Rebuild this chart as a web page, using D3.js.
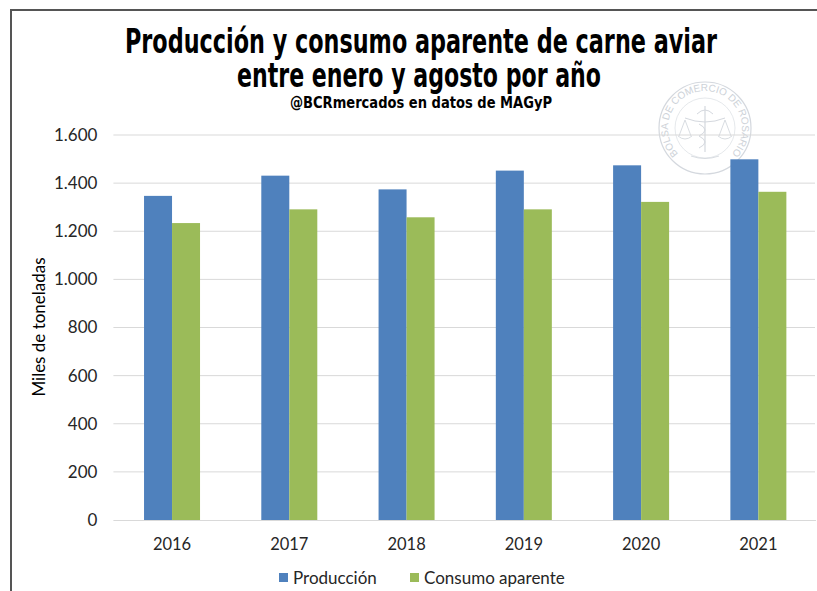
<!DOCTYPE html>
<html><head><meta charset="utf-8">
<script src="https://cdn.jsdelivr.net/npm/d3@7"></script>
<style>body{margin:0;background:#fff}svg{display:block}</style>
</head><body>
<svg id="c" width="817" height="591"></svg>
<script>
const years = ["2016","2017","2018","2019","2020","2021"];
const produccion = [1347, 1431, 1374, 1452, 1474, 1499];
const consumo = [1234, 1291, 1258, 1291, 1322, 1364];
const seriesNames = ["Producción", "Consumo aparente"];
const yTicks = [0,200,400,600,800,1000,1200,1400,1600];
const colors = ["#4F81BD", "#9BBB59"];

const svg = d3.select("#c");
const W = 817, H = 591;
const m = {left:113.4, right:817, top:135, bottom:520};

// frame
svg.append("line").attr("x1",10).attr("x2",W).attr("y1",10).attr("y2",10).attr("stroke","#555").attr("stroke-width",2);
svg.append("line").attr("x1",11).attr("x2",11).attr("y1",10).attr("y2",H).attr("stroke","#555").attr("stroke-width",2);

const x = d3.scaleBand().domain(years).range([m.left, m.right]).paddingInner(0).paddingOuter(0);
const y = d3.scaleLinear().domain([0,1600]).range([m.bottom, m.top]);
const xs = d3.scaleBand().domain(seriesNames).range([0, 56]);
const grpOff = (x.bandwidth()-56)/2;

// watermark seal
const cx = 705, cy = 128, rT = 37;
const wm = svg.append("g").attr("transform",`translate(${cx},${cy})`).attr("fill","none").attr("stroke","#d4d8de");
wm.append("circle").attr("r",46).attr("stroke-width",1.2);
wm.append("circle").attr("r",30).attr("stroke-width",0.6);
const a0 = -135*Math.PI/180, a1 = 135*Math.PI/180;
svg.append("defs").append("path").attr("id","arc")
  .attr("d",`M ${cx+rT*Math.sin(a0)},${cy-rT*Math.cos(a0)} A ${rT} ${rT} 0 1 1 ${cx+rT*Math.sin(a1)},${cy-rT*Math.cos(a1)}`);
svg.append("text").attr("font-family","'Liberation Sans', Arial, sans-serif").attr("font-size",10)
  .attr("fill","#cdd2d8").append("textPath").attr("href","#arc").attr("startOffset","50%").attr("text-anchor","middle")
  .text("BOLSA DE COMERCIO DE ROSARIO");
// simple caduceus & scales
wm.append("line").attr("x1",0).attr("x2",0).attr("y1",-22).attr("y2",24).attr("stroke-width",1.2);
wm.append("path").attr("d","M-8,-14 Q0,-22 8,-14 M-20,-10 Q0,-2 20,-10 M-6,-4 Q6,2 -6,8 Q6,14 -6,20").attr("stroke-width",1);
wm.append("path").attr("d","M-20,-8 L-26,8 M-20,-8 L-14,8 M-27,8 Q-20,14 -13,8 M20,-8 L26,8 M20,-8 L14,8 M13,8 Q20,14 27,8").attr("stroke-width",0.9);
wm.append("path").attr("d","M-14,28 Q0,33 14,28").attr("stroke-width",0.9);

// gridlines
svg.append("g").selectAll("line").data(yTicks.filter(d=>d>0)).join("line")
  .attr("x1",m.left).attr("x2",815).attr("y1",d=>y(d)).attr("y2",d=>y(d))
  .attr("stroke","#d9d9d9").attr("stroke-width",1);

// bars
const data = years.map((yr,i)=>({yr, vals:[produccion[i], consumo[i]]}));
const g = svg.append("g");
data.forEach(d=>{
  d.vals.forEach((v,j)=>{
    g.append("rect")
      .attr("x", x(d.yr)+grpOff+xs(seriesNames[j]))
      .attr("width", xs.bandwidth())
      .attr("y", y(v)).attr("height", y(0)-y(v))
      .attr("fill", colors[j]);
  });
});

// x axis line
svg.append("line").attr("x1",m.left).attr("x2",816).attr("y1",y(0)+0.5).attr("y2",y(0)+0.5).attr("stroke","#d9d9d9").attr("stroke-width",1);

const fnt = "Lato, 'Open Sans', sans-serif";
// y axis
const fmt = d => d3.format(",")(d).replace(/,/g,".");
const yAxis = d3.axisLeft(y).tickValues(yTicks).tickFormat(fmt).tickSize(0).tickPadding(16);
const ya = svg.append("g").attr("transform",`translate(${m.left},0)`).call(yAxis);
ya.select(".domain").remove();
ya.selectAll("text").attr("font-family",fnt).attr("font-size",17).attr("fill","#262626");

// x axis labels
const xAxis = d3.axisBottom(x).tickSize(0).tickPadding(18);
const xa = svg.append("g").attr("transform",`translate(0,${m.bottom})`).call(xAxis);
xa.select(".domain").remove();
xa.selectAll("text").attr("font-family",fnt).attr("font-size",16.5).attr("fill","#262626");

// y axis title
svg.append("text").attr("transform","translate(45,327) rotate(-90)").attr("text-anchor","middle")
  .attr("font-family",fnt).attr("font-size",17).attr("fill","#000").text("Miles de toneladas");

// titles
const tf = "'Liberation Sans Narrow', 'Arial Narrow', 'DejaVu Sans Condensed', sans-serif";
svg.append("text").attr("x",421).attr("y",53).attr("text-anchor","middle").attr("font-family",tf)
  .attr("font-weight","bold").attr("font-size",34).attr("textLength",592).attr("lengthAdjust","spacingAndGlyphs")
  .text("Producción y consumo aparente de carne aviar");
svg.append("text").attr("x",419).attr("y",87).attr("text-anchor","middle").attr("font-family",tf)
  .attr("font-weight","bold").attr("font-size",34).attr("textLength",364).attr("lengthAdjust","spacingAndGlyphs")
  .text("entre enero y agosto por año");
svg.append("text").attr("x",421).attr("y",108).attr("text-anchor","middle").attr("font-family",tf)
  .attr("font-weight","bold").attr("font-size",15).attr("textLength",262).attr("lengthAdjust","spacingAndGlyphs")
  .text("@BCRmercados en datos de MAGyP");

// legend
const leg = svg.append("g");
const legX = [279, 410];
const legTX = [293, 424];
seriesNames.forEach((s,i)=>{
  leg.append("rect").attr("x",legX[i]).attr("y",573).attr("width",9).attr("height",9).attr("fill",colors[i]);
  leg.append("text").attr("x",legTX[i]).attr("y",584).attr("font-family",fnt).attr("font-size",17).attr("fill","#262626").text(s);
});
</script>
</body></html>
